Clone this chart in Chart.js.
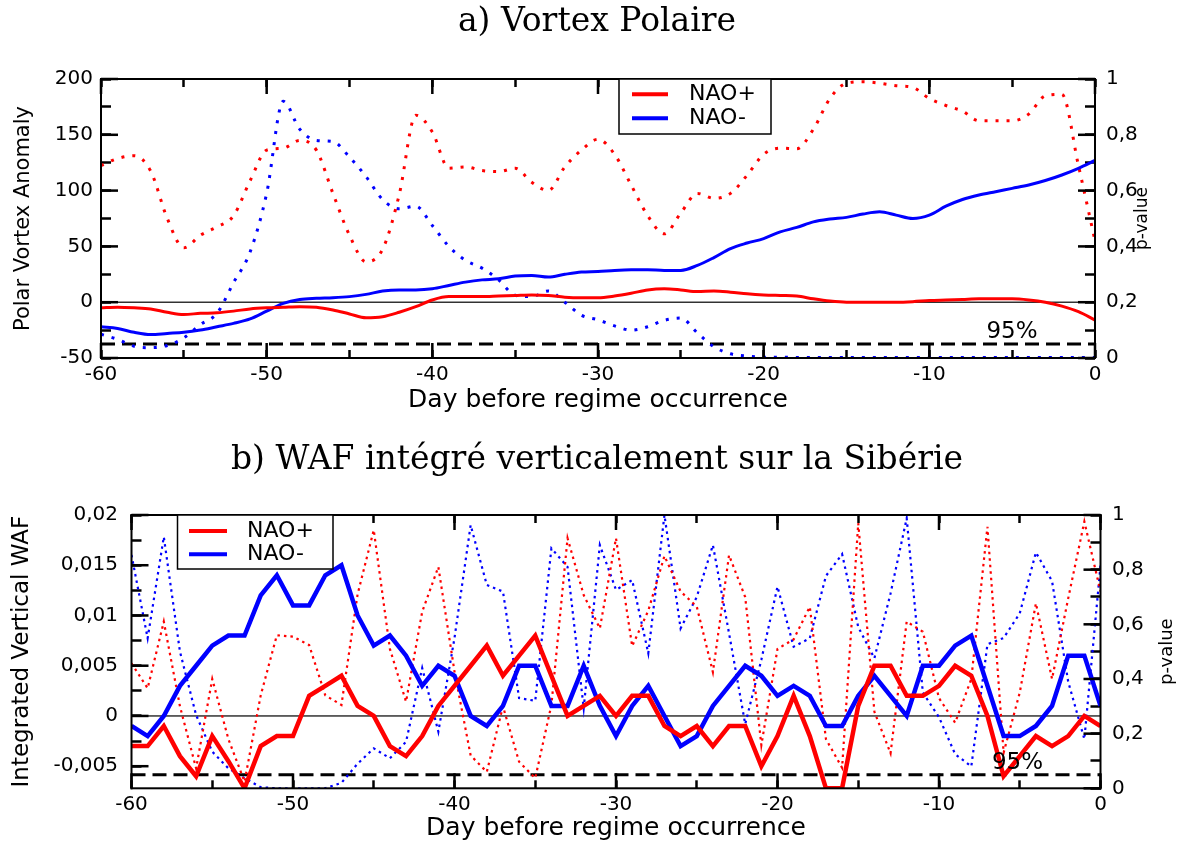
<!DOCTYPE html>
<html lang="fr">
<head>
<meta charset="utf-8">
<title>Vortex polaire et WAF</title>
<script src="https://cdn.jsdelivr.net/npm/chart.js@4.4.1/dist/chart.umd.min.js"></script>
<style>
  html, body { margin: 0; padding: 0; background: #fff; }
  .panel { position: absolute; left: 0; width: 1180px; height: 421px; }
</style>
</head>
<body>
<div class="panel" style="top:0"><canvas id="vortex" width="1180" height="421"></canvas></div>
<div class="panel" style="top:421px"><canvas id="waf" width="1180" height="421"></canvas></div>
<script>
// days before the regime (x axis), shared by both panels
const days = [-60, -59, -58, -57, -56, -55, -54, -53, -52, -51,
              -50, -49, -48, -47, -46, -45, -44, -43, -42, -41,
              -40, -39, -38, -37, -36, -35, -34, -33, -32, -31,
              -30, -29, -28, -27, -26, -25, -24, -23, -22, -21,
              -20, -19, -18, -17, -16, -15, -14, -13, -12, -11,
              -10, -9, -8, -7, -6, -5, -4, -3, -2, -1, 0];

// a) polar vortex anomaly
const vortexNaoPos = [-5, -4.5, -5, -6, -9, -11, -10, -9.5, -8, -6,
                      -5, -4.5, -4, -4.5, -7, -10.5, -14, -13, -9, -4,
                      2, 5, 5, 5, 5.5, 6, 6.5, 6, 4.5, 4,
                      4, 5.5, 8, 11, 12, 11, 9.5, 10, 9, 7.5,
                      6.5, 6, 5.5, 3, 1, 0, 0, 0, 0, 0.5,
                      1.5, 2, 2.5, 3, 3, 3, 2, 0, -3.5, -8.5, -16];
const vortexNaoNeg = [-22, -23.5, -27, -29, -28, -27, -25, -22, -19, -15,
                      -8, -1, 2.5, 3.5, 4, 5, 7, 10, 11, 11,
                      12, 15, 18, 20, 21, 23.5, 24, 22.5, 25, 27,
                      27.5, 28.5, 29, 29, 28.5, 28.5, 33, 40, 48, 53,
                      57, 63, 67, 72, 74.5, 76, 79, 81, 78, 75,
                      78, 86, 92, 96, 99, 102, 105, 109, 114, 120, 127];
const vortexPvalPos = [0.69, 0.715, 0.725, 0.67, 0.5, 0.395, 0.44, 0.47, 0.51, 0.635,
                       0.745, 0.752, 0.78, 0.745, 0.59, 0.44, 0.345, 0.39, 0.585, 0.87,
                       0.81, 0.68, 0.685, 0.672, 0.668, 0.68, 0.63, 0.6, 0.685, 0.745,
                       0.784, 0.73, 0.62, 0.51, 0.445, 0.52, 0.59, 0.572, 0.59, 0.655,
                       0.73, 0.752, 0.75, 0.82, 0.93, 0.985, 0.99, 0.985, 0.976, 0.97,
                       0.93, 0.905, 0.885, 0.85, 0.85, 0.85, 0.874, 0.94, 0.945, 0.69, 0.42];
const vortexPvalNeg = [0.085, 0.067, 0.042, 0.037, 0.045, 0.072, 0.12, 0.16, 0.27, 0.38,
                       0.59, 0.92, 0.82, 0.78, 0.776, 0.72, 0.65, 0.568, 0.535, 0.544,
                       0.475, 0.4, 0.35, 0.322, 0.28, 0.225, 0.22, 0.24, 0.2, 0.153,
                       0.137, 0.115, 0.1, 0.112, 0.135, 0.143, 0.09, 0.04, 0.015, 0.007,
                       0.003, 0.003, 0.002, 0.002, 0.002, 0.002, 0.002, 0.002, 0.002, 0.002,
                       0.002, 0.002, 0.002, 0.002, 0.002, 0.002, 0.002, 0.002, 0.002, 0.002, 0.002];

// b) vertically integrated WAF over Siberia
const wafNaoPos = [-0.003, -0.003, -0.001, -0.004, -0.006, -0.002, -0.0045, -0.0072, -0.003, -0.002,
                   -0.002, 0.002, 0.003, 0.004, 0.001, 0, -0.003, -0.004, -0.002, 0.001,
                   0.003, 0.005, 0.007, 0.004, 0.006, 0.008, 0.004, 0, 0.001, 0.002,
                   0, 0.002, 0.002, -0.001, -0.002, -0.001, -0.003, -0.001, -0.001, -0.005,
                   -0.002, 0.002, -0.002, -0.0072, -0.0072, 0.001, 0.005, 0.005, 0.002, 0.002,
                   0.003, 0.005, 0.004, 0, -0.006, -0.004, -0.002, -0.003, -0.002, 0, -0.001];
const wafNaoNeg = [-0.001, -0.002, 0, 0.003, 0.005, 0.007, 0.008, 0.008, 0.012, 0.014,
                   0.011, 0.011, 0.014, 0.015, 0.01, 0.007, 0.008, 0.006, 0.003, 0.005,
                   0.004, 0, -0.001, 0.001, 0.005, 0.005, 0.001, 0.001, 0.005, 0.001,
                   -0.002, 0.001, 0.003, 0, -0.003, -0.002, 0.001, 0.003, 0.005, 0.004,
                   0.002, 0.003, 0.002, -0.001, -0.001, 0.002, 0.004, 0.002, 0, 0.005,
                   0.005, 0.007, 0.008, 0.003, -0.002, -0.002, -0.001, 0.001, 0.006, 0.006, 0.001];
const wafPvalPos = [0.457, 0.366, 0.61, 0.3, 0.073, 0.4, 0.18, 0.024, 0.34, 0.56,
                    0.555, 0.524, 0.34, 0.305, 0.71, 0.945, 0.51, 0.317, 0.646, 0.81,
                    0.427, 0.12, 0.06, 0.3, 0.097, 0.037, 0.305, 0.915, 0.707, 0.585,
                    0.915, 0.52, 0.65, 0.85, 0.72, 0.665, 0.425, 0.853, 0.7, 0.158,
                    0.51, 0.545, 0.664, 0.18, 0.075, 0.97, 0.28, 0.128, 0.61, 0.573,
                    0.33, 0.24, 0.4, 0.957, 0.13, 0.35, 0.677, 0.4, 0.695, 0.976, 0.72];
const wafPvalNeg = [0.854, 0.549, 0.92, 0.5, 0.268, 0.134, 0.073, 0.037, 0.004, 0,
                    0, 0, 0, 0.02, 0.09, 0.146, 0.11, 0.17, 0.44, 0.207,
                    0.55, 0.963, 0.744, 0.72, 0.33, 0.32, 0.878, 0.81, 0.293, 0.89,
                    0.726, 0.762, 0.494, 1, 0.585, 0.7, 0.89, 0.567, 0.235, 0.47,
                    0.738, 0.518, 0.549, 0.777, 0.857, 0.59, 0.476, 0.713, 0.988, 0.35,
                    0.26, 0.125, 0.08, 0.527, 0.55, 0.64, 0.863, 0.758, 0.39, 0.18, 0.815];

const sigLevel = 0.05;   // 95% threshold on the p-value axis
const RED = '#ff0000';
const BLUE = '#0000ff';

Chart.defaults.font.family = '"DejaVu Sans"';
Chart.defaults.color = '#000';

function points(values) {
  return days.map((d, i) => ({ x: d, y: values[i] }));
}

function comma(v) {
  return String(parseFloat(v.toFixed(4))).replace('.', ',');
}

function isMajor(v, step) {
  const r = v / step;
  return Math.abs(r - Math.round(r)) < 1e-6;
}

// inward tick marks drawn by the scales themselves (negative tick length)
function inwardGrid(len) {
  return { display: true, drawOnChartArea: false, drawTicks: true, tickLength: -len,
           tickWidth: 2.5, tickColor: '#000' };
}

// frame, longer major ticks, reference lines, legend and titles
function makeDecor(d) {
  return {
    id: 'decor',
    beforeDatasetsDraw(chart) {
      const { ctx, chartArea: a, scales } = chart;
      ctx.save();
      ctx.fillStyle = '#000';
      const y0 = scales.y.getPixelForValue(0);
      ctx.fillRect(a.left, y0 - 0.6, a.right - a.left, 1.2);
      const ys = scales.y1.getPixelForValue(sigLevel);
      ctx.strokeStyle = '#000';
      ctx.lineWidth = 3;
      ctx.setLineDash([14, 7]);
      ctx.beginPath(); ctx.moveTo(a.left, ys); ctx.lineTo(a.right, ys); ctx.stroke();
      ctx.restore();
    },
    afterDraw(chart) {
      const { ctx, chartArea: a, scales } = chart;
      ctx.save();
      ctx.setLineDash([]);
      ctx.fillStyle = '#000';
      ctx.fillRect(a.left - 1, a.top - 1, a.right - a.left + 2, 2);
      ctx.fillRect(a.left - 1, a.bottom - 1, a.right - a.left + 2, 2);
      ctx.fillRect(a.left - 1, a.top - 1, 2, a.bottom - a.top + 2);
      ctx.fillRect(a.right - 1, a.top - 1, 2, a.bottom - a.top + 2);

      scales.x.ticks.forEach(t => {
        if (!isMajor(t.value, 10)) return;
        const px = scales.x.getPixelForValue(t.value);
        ctx.fillRect(px - 1.25, a.bottom - 15, 2.5, 15);
        ctx.fillRect(px - 1.25, a.top, 2.5, 15);
      });
      scales.y.ticks.forEach(t => {
        if (!isMajor(t.value, d.yStep)) return;
        ctx.fillRect(a.left, scales.y.getPixelForValue(t.value) - 1.25, 17, 2.5);
      });
      scales.y1.ticks.forEach(t => {
        if (!isMajor(t.value, 0.2)) return;
        ctx.fillRect(a.right - 17, scales.y1.getPixelForValue(t.value) - 1.25, 17, 2.5);
      });

      ctx.textAlign = 'center';
      ctx.textBaseline = 'middle';
      ctx.font = '23px "DejaVu Sans"';
      ctx.fillText('95%', a.right - 83, scales.y1.getPixelForValue(sigLevel) - 12);

      const L = d.legend;
      ctx.fillStyle = '#fff';
      ctx.fillRect(L.x, L.y, L.w, L.h);
      ctx.strokeStyle = '#000';
      ctx.lineWidth = 1.5;
      ctx.strokeRect(L.x, L.y, L.w, L.h);
      ctx.font = '22px "DejaVu Sans"';
      ctx.textAlign = 'left';
      chart.data.datasets.slice(0, 2).forEach((ds, i) => {
        const ry = L.y + L.rows[i];
        ctx.strokeStyle = ds.borderColor;
        ctx.lineWidth = 4;
        ctx.beginPath(); ctx.moveTo(L.x + L.line[0], ry); ctx.lineTo(L.x + L.line[1], ry); ctx.stroke();
        ctx.fillStyle = '#000';
        ctx.fillText(ds.label, L.x + L.text, ry);
      });

      ctx.font = '33px "DejaVu Serif"';
      ctx.textAlign = 'center';
      ctx.fillText(d.title, d.titleX, d.titleY);

      ctx.translate(d.rightTitleX, (a.top + a.bottom) / 2);
      ctx.rotate(-Math.PI / 2);
      ctx.font = d.rightTitleSize + 'px "DejaVu Sans"';
      ctx.fillText('p-value', 0, 0);
      ctx.restore();
    }
  };
}

function makePanel(id, sets, opt) {
  return new Chart(document.getElementById(id), {
    type: 'line',
    data: { datasets: sets },
    options: {
      responsive: false,
      animation: false,
      devicePixelRatio: 1,
      layout: { padding: { top: opt.areaTop, left: 0, right: 0, bottom: 0 } },
      elements: { point: { radius: 0, hoverRadius: 0 } },
      scales: {
        x: {
          type: 'linear', position: 'bottom', min: -60, max: 0,
          grid: inwardGrid(8), border: { display: false },
          ticks: { stepSize: 5, maxTicksLimit: 20, autoSkip: false, maxRotation: 0,
                   padding: opt.xTickPad + 8, font: { size: 20 },
                   callback: v => (isMajor(v, 10) ? String(v) : '') },
          title: { display: true, text: 'Day before regime occurrence',
                   font: { size: 25, lineHeight: opt.xTitleLH }, padding: { top: 0, bottom: opt.xTitlePad } },
          afterFit: s => { s.height = opt.xHeight; }
        },
        xTop: {
          type: 'linear', axis: 'x', position: 'top', min: -60, max: 0,
          grid: inwardGrid(8), border: { display: false },
          ticks: { stepSize: 5, maxTicksLimit: 20, autoSkip: false, callback: () => '' },
          afterFit: s => { s.height = 0; }
        },
        y: {
          position: 'left', min: opt.yMin, max: opt.yMax,
          grid: inwardGrid(10), border: { display: false },
          ticks: { stepSize: opt.yStep / 2, maxTicksLimit: 20, includeBounds: false, autoSkip: false,
                   padding: opt.yTickPad + 10, font: { size: 20 },
                   callback: v => (isMajor(v, opt.yStep) ? comma(v) : '') },
          title: { display: true, text: opt.yTitle, font: { size: opt.yTitleSize, lineHeight: 1.2 },
                   padding: { top: opt.yTitlePad, bottom: 0 } },
          afterFit: s => { s.width = opt.leftWidth; }
        },
        y1: {
          position: 'right', min: 0, max: 1,
          grid: inwardGrid(10), border: { display: false },
          ticks: { stepSize: 0.1, maxTicksLimit: 20, autoSkip: false,
                   padding: opt.y1TickPad + 10, font: { size: 20 },
                   callback: v => (isMajor(v, 0.2) ? comma(v) : '') },
          afterFit: s => { s.width = opt.rightWidth; }
        }
      },
      plugins: {
        legend: { display: false },
        tooltip: { enabled: false }
      }
    },
    plugins: [makeDecor(Object.assign({ yStep: opt.yStep }, opt.decor))]
  });
}

makePanel('vortex', [
  { label: 'NAO+', data: points(vortexNaoPos), xAxisID: 'x', yAxisID: 'y', borderColor: RED, borderWidth: 3, cubicInterpolationMode: 'monotone' },
  { label: 'NAO-', data: points(vortexNaoNeg), xAxisID: 'x', yAxisID: 'y', borderColor: BLUE, borderWidth: 3, cubicInterpolationMode: 'monotone' },
  { label: 'p NAO+', data: points(vortexPvalPos), xAxisID: 'x', yAxisID: 'y1', borderColor: RED, borderWidth: 3, borderDash: [3, 8], cubicInterpolationMode: 'monotone' },
  { label: 'p NAO-', data: points(vortexPvalNeg), xAxisID: 'x', yAxisID: 'y1', borderColor: BLUE, borderWidth: 3, borderDash: [3, 8], cubicInterpolationMode: 'monotone' }
], {
  areaTop: 79, xHeight: 63, leftWidth: 101, rightWidth: 85,
  yMin: -50, yMax: 200, yStep: 50,
  xTickPad: 5, yTickPad: 8, y1TickPad: 11,
  xTitleLH: 1.2, xTitlePad: 6,
  yTitle: 'Polar Vortex Anomaly', yTitleSize: 21, yTitlePad: 11,
  decor: {
    title: 'a) Vortex Polaire', titleX: 597, titleY: 22,
    rightTitleX: 1143, rightTitleSize: 17,
    legend: { x: 619, y: 79, w: 152, h: 55, rows: [15.3, 39.3], line: [13, 49], text: 70 }
  }
});

makePanel('waf', [
  { label: 'NAO+', data: points(wafNaoPos), xAxisID: 'x', yAxisID: 'y', borderColor: RED, borderWidth: 4.5, tension: 0 },
  { label: 'NAO-', data: points(wafNaoNeg), xAxisID: 'x', yAxisID: 'y', borderColor: BLUE, borderWidth: 4.5, tension: 0 },
  { label: 'p NAO+', data: points(wafPvalPos), xAxisID: 'x', yAxisID: 'y1', borderColor: RED, borderWidth: 2.2, borderDash: [2.5, 4], tension: 0 },
  { label: 'p NAO-', data: points(wafPvalNeg), xAxisID: 'x', yAxisID: 'y1', borderColor: BLUE, borderWidth: 2.2, borderDash: [2.5, 4], tension: 0 }
], {
  areaTop: 94, xHeight: 53.7, leftWidth: 131.5, rightWidth: 79.5,
  yMin: -0.0072, yMax: 0.02, yStep: 0.005,
  xTickPad: 4.7, yTickPad: 13.5, y1TickPad: 11.5,
  xTitleLH: 1, xTitlePad: 1.5,
  yTitle: 'Integrated Vertical WAF', yTitleSize: 23, yTitlePad: 8,
  decor: {
    title: 'b) WAF intégré verticalement sur la Sibérie', titleX: 597, titleY: 39,
    rightTitleX: 1167, rightTitleSize: 18,
    legend: { x: 177.5, y: 94, w: 155.5, h: 54, rows: [16, 39.3], line: [11.5, 49.5], text: 69.5 }
  }
});
</script>
</body>
</html>
